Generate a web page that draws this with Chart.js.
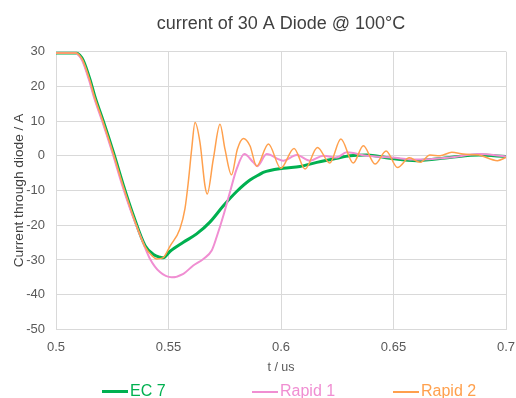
<!DOCTYPE html>
<html>
<head>
<meta charset="utf-8">
<script src="https://cdn.jsdelivr.net/npm/chart.js@4/dist/chart.umd.min.js"></script>
<style>
    html, body { margin: 0; padding: 0; background: #fff; overflow: hidden; }
    #wrap { position: relative; width: 516px; height: 398px; }
    #legend { position: absolute; left: 0; top: 381px; width: 516px; height: 22px;
              font-family: 'Liberation Sans', Arial, sans-serif; font-size: 16px; }
    .item { position: absolute; top: 0; white-space: nowrap; line-height: 20px; }
    .swatch { display: inline-block; width: 26px; vertical-align: middle; margin-right: 2px; }
</style>
</head>
<body>
<div id="wrap">
    <canvas id="chart"></canvas>
    <div id="legend"></div>
</div>
<script>
// EC 7
const ec7Time = [0.500, 0.505, 0.5092, 0.5105, 0.5121, 0.5151, 0.5173, 0.521, 0.5255, 0.530, 0.5344, 0.5396, 0.5435, 0.5462, 0.5477, 0.5507, 0.5566, 0.5625, 0.5684, 0.5744, 0.5803, 0.5862, 0.5907, 0.5921, 0.601, 0.6084, 0.6159, 0.6248, 0.6307, 0.638, 0.6484, 0.6603, 0.675, 0.688, 0.700];
const ec7Current = [29.6, 29.6, 29.6, 29.0, 27.5, 22.0, 17.0, 10.0, 1.0, -8.6, -17.2, -25.9, -28.5, -29.2, -29.4, -27.5, -24.9, -22.5, -19.1, -14.4, -10.3, -7.0, -5.3, -4.8, -3.6, -3.1, -1.9, -0.7, 0.0, 0.2, -0.7, -1.4, -0.5, 0.2, -0.2];

// Rapid 1
const rapid1Time = [0.500, 0.505, 0.5088, 0.510, 0.5116, 0.5146, 0.5168, 0.5205, 0.525, 0.5295, 0.534, 0.539, 0.5418, 0.5462, 0.5514, 0.5566, 0.561, 0.5655, 0.5692, 0.5714, 0.5744, 0.5773, 0.5803, 0.5837, 0.5877, 0.5895, 0.5936, 0.601, 0.607, 0.6129, 0.6188, 0.6248, 0.6292, 0.638, 0.6492, 0.6603, 0.675, 0.688, 0.700];
const rapid1Current = [29.6, 29.6, 29.6, 29.0, 27.5, 22.0, 17.0, 10.0, 1.0, -8.6, -17.2, -25.5, -29.7, -33.5, -35.0, -34.0, -31.6, -29.7, -27.3, -23.4, -17.2, -10.5, -3.8, 0.5, -1.9, -3.0, 0.5, -1.4, 0.2, -1.4, 0.0, -0.5, 1.0, 0.0, -0.5, -1.1, -0.5, 0.5, -0.2];

// Rapid 2
const rapid2Time = [0.500, 0.505, 0.509, 0.5103, 0.5119, 0.5149, 0.5171, 0.5208, 0.5253, 0.5298, 0.5342, 0.5394, 0.543, 0.5447, 0.5475, 0.5507, 0.5551, 0.5573, 0.5588, 0.5603, 0.5618, 0.564, 0.5662, 0.5672, 0.5699, 0.5729, 0.5751, 0.578, 0.5806, 0.5833, 0.5862, 0.5892, 0.5944, 0.5999, 0.6058, 0.6107, 0.6162, 0.6217, 0.6266, 0.6321, 0.6366, 0.6418, 0.6467, 0.6518, 0.657, 0.6618, 0.6662, 0.6707, 0.6759, 0.681, 0.688, 0.6962, 0.700];
const rapid2Current = [29.6, 29.6, 29.6, 29.0, 27.5, 22.0, 17.0, 10.0, 1.0, -8.6, -17.2, -26.0, -29.0, -29.7, -29.4, -26.0, -21.0, -15.3, -7.6, 1.9, 9.6, 3.8, -8.6, -11.0, -1.0, 9.1, 1.9, -5.5, 1.9, 5.0, 2.9, -3.0, 3.4, -3.6, 2.1, -3.8, 2.4, -2.1, 4.8, -2.1, 2.9, -2.4, 1.4, -3.4, -0.6, -1.9, 0.2, 0.0, 1.0, 0.5, 0.2, -1.4, -0.5];

const xTicks = [0.5, 0.55, 0.6, 0.65, 0.7];
const yTicks = [30, 20, 10, 0, -10, -20, -30, -40, -50];

function toPoints(times, values) {
    return times.map((t, i) => ({ x: t, y: values[i] }));
}

const series = [
    { label: 'EC 7', data: toPoints(ec7Time, ec7Current), color: '#00b050', width: 3, order: 3, left: 102 },
    { label: 'Rapid 1', data: toPoints(rapid1Time, rapid1Current), color: '#f08ed2', width: 2, order: 2, left: 252 },
    { label: 'Rapid 2', data: toPoints(rapid2Time, rapid2Current), color: '#ffa04d', width: 1.5, order: 1, left: 393 }
];

const gridColor = '#d9d9d9';
const textColor = '#595959';
const fontFamily = 'Liberation Sans, Arial, sans-serif';

// Legend below the plot, colored text like the original
const legendEl = document.getElementById('legend');
series.forEach(s => {
    const item = document.createElement('div');
    item.className = 'item';
    item.style.left = s.left + 'px';
    item.style.color = s.color;
    const sw = document.createElement('span');
    sw.className = 'swatch';
    sw.style.height = s.width + 'px';
    sw.style.background = s.color;
    item.appendChild(sw);
    item.appendChild(document.createTextNode(s.label));
    legendEl.appendChild(item);
});

new Chart(document.getElementById('chart'), {
    type: 'line',
    data: {
        datasets: series.map(s => ({
            label: s.label,
            data: s.data,
            borderColor: s.color,
            backgroundColor: s.color,
            borderWidth: s.width,
            order: s.order,
            pointRadius: 0,
            cubicInterpolationMode: 'monotone',
            fill: false
        }))
    },
    options: {
        responsive: true,
        maintainAspectRatio: false,
        animation: false,
        layout: { padding: { left: 11, right: 10, top: 7, bottom: 21 } },
        plugins: {
            title: {
                display: true,
                fullSize: false,
                text: 'current of 30 A Diode @ 100°C',
                color: '#404040',
                font: { family: fontFamily, size: 18, weight: 'normal' },
                padding: { top: 6, bottom: 17 }
            },
            legend: { display: false },
            tooltip: { enabled: false }
        },
        scales: {
            x: {
                type: 'linear',
                min: 0.5,
                max: 0.7,
                afterBuildTicks: axis => { axis.ticks = xTicks.map(v => ({ value: v })); },
                afterFit: axis => { axis.paddingRight = 0; },
                ticks: {
                    color: textColor,
                    font: { family: fontFamily, size: 13 },
                    padding: 10,
                    callback: v => String(+v.toFixed(2)),
                    maxRotation: 0
                },
                grid: { color: gridColor, drawTicks: false },
                border: { color: gridColor },
                title: {
                    display: true,
                    text: 't / us',
                    color: textColor,
                    font: { family: fontFamily, size: 12.5 },
                    padding: { top: -5, bottom: 2 }
                }
            },
            y: {
                min: -50,
                max: 30,
                afterBuildTicks: axis => { axis.ticks = yTicks.map(v => ({ value: v })); },
                afterFit: axis => { axis.width = 45; },
                ticks: {
                    color: textColor,
                    font: { family: fontFamily, size: 13 },
                    padding: 11
                },
                grid: { color: gridColor, drawTicks: false },
                border: { color: gridColor },
                title: {
                    display: true,
                    text: 'Current through diode / A',
                    color: '#404040',
                    font: { family: fontFamily, size: 13.7 },
                    padding: { top: 0, bottom: 0 }
                }
            }
        }
    }
});
</script>
</body>
</html>
